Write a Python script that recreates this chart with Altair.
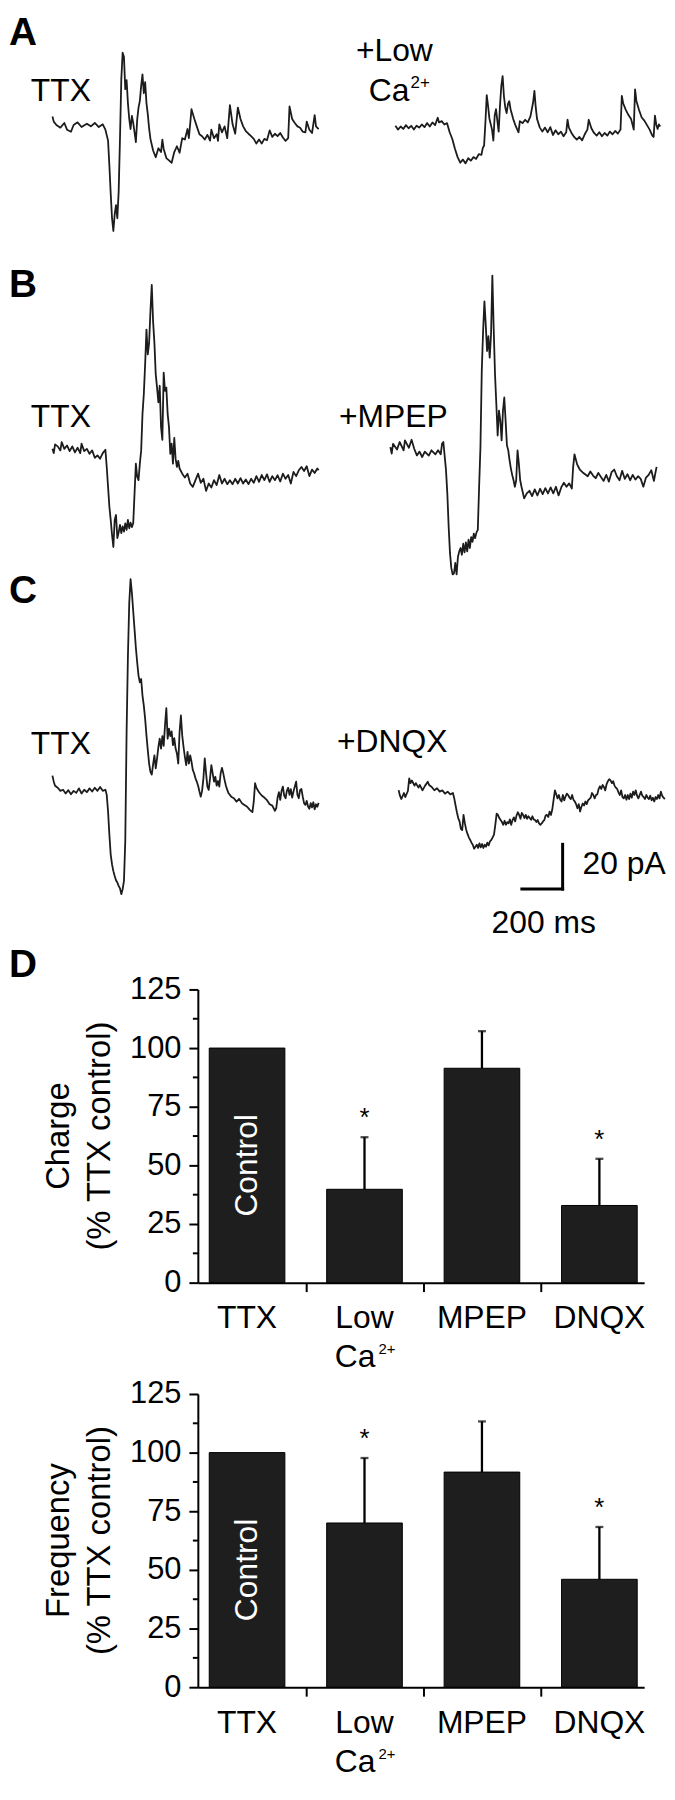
import altair as alt
import pandas as pd

FONT = "Liberation Sans"
INK = "#000000"

# ------------------------------------------------------------------
# Current traces (panels A-C): sample index (DT_MS apart) and current (pA)
# ------------------------------------------------------------------
DT_MS = 6.5
SCALE_BAR_MS = 200
SCALE_BAR_PA = 20

A_TTX_N = [0, 1, 3, 6, 9, 11, 14, 16, 19, 22, 26, 29, 32, 35, 38, 40, 42, 43, 44, 45,
           46, 47, 48, 49, 50, 51, 52, 53, 54, 55, 56, 57, 58, 59, 60, 61, 62, 63, 64, 65,
           66, 67, 68, 69, 70, 71, 72, 73, 74, 76, 78, 80, 82, 83, 84, 86, 88, 90, 92, 94,
           96, 98, 100, 102, 103, 104, 105, 107, 109, 111, 113, 115, 117, 119, 120, 122, 124, 125, 126, 128,
           130, 132, 134, 136, 138, 140, 142, 144, 146, 148, 150, 152, 154, 156, 158, 160, 162, 164, 166, 168,
           170, 172, 174, 176, 178, 179, 181, 183, 185, 187, 189, 191, 192, 194, 196, 198, 199, 201]
A_TTX_PA = [4.1, 1.8, 0.3, -0.9, 1.2, -1.8, -2.7, 0.3, 1.5, -0.6, 0.9, -0.3, 1.2, -0.6, 0.6, -1.8, -6.7, -17.8, -30.3, -41.4,
            -47.1, -39.7, -35.5, -41.4, -29.6, -5.9, 20.7, 32.6, 30.8, 16.3, 20.4, 10.1, 3.0, -1.5, 4.4, 1.2, -3.0, -7.4, 2.7, 8.1,
            11.1, 17.8, 22.9, 14.5, 19.5, 10.1, 5.2, -1.2, -5.9, -11.1, -14.1, -10.1, -11.8, -6.2, -10.4, -14.5, -15.5, -16.6, -11.8, -9.2,
            -12.1, -5.6, -6.2, -1.5, -5.6, 0.7, 7.4, 3.3, -0.3, -3.8, -4.7, -6.2, -4.1, -6.7, -1.8, -5.6, -3.8, -6.8, 0.6, -3.0,
            -0.3, -5.6, 9.2, 0.7, -3.6, 8.1, 3.0, -0.3, -2.4, -3.6, -4.7, -5.9, -8.0, -6.2, -8.0, -5.9, -6.5, -2.1, -5.0, -3.6,
            -4.7, -3.3, -5.3, -6.8, -5.6, 8.6, 3.0, 1.2, -0.3, -0.9, -2.7, -3.0, 1.8, -1.8, -3.3, 4.7, -0.3, -1.5]

A_LOWCA_N = [0, 2, 4, 6, 8, 10, 12, 14, 16, 18, 20, 22, 24, 26, 28, 30, 32, 33, 35, 37,
             39, 41, 43, 45, 47, 49, 51, 53, 55, 57, 59, 61, 63, 65, 66, 67, 68, 69, 70, 71,
             73, 74, 75, 76, 77, 78, 79, 80, 81, 82, 83, 84, 85, 86, 87, 89, 91, 93, 94, 96,
             98, 100, 102, 104, 105, 106, 107, 109, 111, 113, 115, 117, 119, 121, 123, 125, 127, 129, 130, 131,
             133, 135, 137, 139, 141, 143, 145, 146, 148, 150, 152, 154, 156, 158, 160, 162, 164, 166, 168, 170,
             171, 172, 174, 176, 178, 180, 181, 182, 184, 186, 188, 190, 192, 194, 195, 196, 197, 198, 199, 200]
A_LOWCA_PA = [0.7, -1.0, 0.4, -0.7, 1.0, -0.4, 0.7, -1.0, 0.7, -0.1, 1.3, 0.1, 1.9, 0.4, 2.2, 1.0, 4.3, 2.2, 2.8, 1.3,
              1.9, -2.2, -5.2, -9.6, -13.3, -15.8, -14.4, -16.1, -13.8, -14.9, -13.3, -14.1, -12.0, -12.3, -9.3, -8.1, 2.2, 14.4, 9.6, 4.0,
              -1.0, -5.9, 5.2, 8.1, 3.0, -1.9, 9.6, 18.5, 22.9, 13.8, 8.9, 6.4, 10.4, 11.7, 8.1, 3.7, 0.4, -2.2, 2.8, 1.9,
              3.4, 2.2, 4.9, 11.1, 16.3, 8.9, 3.7, 0.0, -1.9, -0.1, -2.2, 0.1, -3.4, -1.3, -3.1, -1.9, -4.0, -2.2, 3.4, -0.1,
              -2.5, -4.3, -5.5, -4.3, -5.8, -3.1, -1.0, 3.4, -0.4, -2.5, -3.7, -2.2, -4.0, -2.5, -3.7, -1.9, -3.1, -1.6, -2.8, -1.0,
              14.1, 10.8, 7.8, 5.5, 3.7, -1.0, 17.0, 11.8, 7.8, 4.4, 3.0, 1.0, -1.0, -3.7, -4.3, 5.2, 1.3, -0.7, 1.3, 0.4]

B_TTX_N = [0, 1, 2, 4, 6, 7, 9, 11, 13, 15, 17, 19, 21, 22, 24, 26, 28, 30, 32, 34, 36, 38, 40,
           41, 42, 43, 44, 45, 46, 47, 48, 49, 50, 51, 52, 53, 54, 55, 56, 57, 58, 59, 60,
           61, 62, 63, 64, 65, 66, 67, 68, 69, 70, 71, 72, 73, 74, 75, 76, 77, 78, 79, 80,
           81, 82, 83, 84, 85, 86, 87, 88, 89, 90, 91, 92, 93, 94, 95, 96,
           98, 100, 102, 104, 106, 108, 110, 112, 114, 116, 118, 120, 122, 124, 126, 128, 130, 132, 134, 136,
           138, 140, 142, 144, 146, 148, 150, 152, 154, 156, 158, 160, 162, 164, 166, 168, 170, 172, 174, 176,
           178, 180, 182, 184, 186, 188, 190, 192, 194, 196, 198, 200, 201]
B_TTX_PA = [0.7, -1.2, 2.7, 1.8, 0.0, 3.7, 0.7, 2.2, -0.3, 1.8, -0.9, 1.2, -1.2, 3.0, -0.3, 0.7, -1.5, 0.0, -3.3, -2.2, -3.7, -1.2, 0.3,
            -7.4, -16.3, -25.2, -31.1, -37.7, -43.2, -31.1, -28.9, -39.2, -36.7,
            -33.3, -37.0, -34.0, -36.3, -32.6, -35.5, -31.1, -34.8, -32.3, -34.3,
            -32.6, -19.2, -5.9, -11.8, -13.3, -5.9, 0.0, 16.3, 25.2, 38.5,
            54.0, 42.9, 48.1, 62.2, 74.0, 57.7, 48.1, 34.0, 28.1, 21.5,
            28.9, 10.4, 4.7, 34.8, 26.6, 28.1, 16.3, 10.4, -1.5, 3.0,
            -5.9, 5.6, -3.7, -7.4, -4.7, -8.1,
            -10.4, -12.1, -10.4, -14.8, -16.3, -13.3, -10.4, -14.5, -12.7, -18.1,
            -14.8, -16.6, -13.3, -15.5, -11.0, -14.8, -12.7, -15.1, -13.3, -15.1,
            -12.7, -14.8, -12.4, -14.8, -13.0, -15.1, -12.7, -14.5, -11.5, -14.1,
            -11.0, -13.3, -10.7, -14.1, -11.5, -13.3, -11.1, -13.9, -10.4, -12.7,
            -11.0, -14.8, -9.6, -11.5, -8.9, -7.4, -9.2, -7.1, -11.5, -8.6,
            -10.1, -8.1, -8.9]

B_MPEP_N = [0, 1, 2, 5, 7, 10, 11, 14, 16, 18, 20, 22, 24, 26, 29, 31, 34, 36, 38, 39, 40,
            42, 43, 44, 45, 46, 47, 48, 49, 50, 51, 52, 53, 54, 55, 56, 57, 58, 59, 60, 61,
            62, 63, 64, 65, 66, 67, 68, 69, 70, 71, 72, 73, 74, 75, 76, 77, 78, 79, 80, 81,
            82, 83, 84, 85, 86, 87, 88, 89, 90, 91, 92, 93, 94, 95, 96, 97, 98, 99,
            101, 103, 105, 107, 109, 111, 113, 115, 117, 119, 121, 123, 125, 127, 129, 131, 133, 135, 137,
            138, 139,
            141, 143, 145, 147, 149, 151, 153, 155, 157, 159, 161, 163, 165, 167, 169,
            171, 173, 175, 177, 179, 181, 183, 185, 187, 189, 191, 193, 195, 197, 199,
            200, 201]
B_MPEP_PA = [0.7, -2.2, 2.2, -0.4, 3.0, -0.7, 3.7, 0.4, 4.0, 0.0, -3.0, -1.3, -3.7, -1.3, -3.1, -0.7, -2.5, -0.7, -2.5, 2.2, 3.0,
             -9.6, -20.0, -34.8, -46.6, -53.3, -56.2, -55.8, -51.1, -56.2, -48.4,
             -45.9, -44.4, -47.4, -42.5, -46.3, -41.9, -45.9, -40.7, -44.4, -39.5,
             -41.6, -38.0, -40.0, -37.4, -36.3, -17.0, 0.7, 34.8, 52.5, 65.9,
             55.5, 43.7, 50.3, 40.7, 51.1, 77.4, 54.0, 33.3, 20.0, 5.9,
             17.0, 12.6, 3.7, 17.0, 22.9, 12.6, 1.5, -0.7, -5.2, -8.9,
             -11.8, -14.1, -17.0, -14.1, -0.7, -6.7, -14.1, -17.0,
             -22.2, -20.0, -18.8, -21.2, -18.2, -20.9, -17.9, -20.3, -17.6, -20.0,
             -17.3, -20.0, -17.0, -20.9, -17.3, -15.2, -17.0, -15.5, -17.8,
             -8.1, -2.5,
             -7.0, -9.3, -10.5, -11.4, -12.3, -10.2, -12.0, -13.2, -10.8, -12.6,
             -14.4, -11.7, -14.7, -10.5, -9.3, -12.3, -14.1, -9.9, -13.5, -11.4,
             -14.1, -11.7, -13.8, -12.3, -13.5, -17.0, -12.9, -11.7, -9.6, -14.4,
             -11.1, -8.1]

C_TTX_N = [0, 1, 2, 4, 6, 8, 10, 12, 14, 16, 18, 20, 22, 24, 26, 28, 30, 32, 34, 36, 38, 40,
           41, 42, 43, 44, 45, 46, 47, 48, 49, 50, 51, 52, 53, 54, 55, 56, 57, 58, 59, 60,
           61, 62, 63, 64, 65, 66, 67, 68, 69, 70, 71, 72, 73, 74, 75, 76, 77, 78, 79, 80,
           81, 82, 83, 84, 85, 86, 87, 88, 89, 90, 91, 92, 93, 94, 95, 96, 97, 98, 99, 100,
           101, 102, 103, 104, 105, 106, 107, 108, 109, 110, 111, 112, 113, 114, 115, 116, 117, 118, 119, 120,
           121, 122, 123, 124, 125, 126, 127, 128, 129, 130, 131, 132, 133,
           135, 137, 139, 141, 143, 145, 147, 149, 151, 152, 153, 154,
           156, 158, 160, 162, 164, 166, 168,
           169, 170, 171, 172, 173, 174, 175, 176, 177, 178, 179, 180, 181, 182, 183, 184, 185, 186, 187, 188,
           189, 190, 191, 192, 193, 194, 195, 196, 197, 198, 199, 200, 201]
C_TTX_PA = [6.4, 3.7, 1.9, 1.0, -0.4, 0.1, -1.6, -0.1, -1.9, -0.4, -1.3, 0.7, -1.6, 0.1, -1.0, 0.7, -0.7, 1.0, -0.4, 1.3, -0.4, 0.1,
            -2.2, -9.6, -20.0, -28.9, -33.3, -36.3, -38.5, -40.4, -41.4, -42.9,
            -44.0, -46.6, -44.4, -40.7, -22.9, 25.9, 59.9, 83.6, 94.3, 88.1,
            79.9, 71.8, 63.6, 57.0, 51.1, 48.1, 49.6, 42.2, 37.7, 31.8,
            24.4, 17.8, 11.8, 8.1, 6.9, 11.4, 15.5, 9.6, 14.1, 19.2,
            22.9, 18.5, 24.1, 19.7, 28.9, 36.6, 22.9, 27.4, 24.1, 26.2,
            20.0, 23.2, 18.5, 16.3, 11.8, 25.9, 33.3, 24.4, 19.2, 14.8,
            11.1, 17.0, 11.8, 15.5, 12.6, 8.9, 7.4, 5.2, 3.7, 1.9,
            -0.7, -3.0, -0.4, 5.2, 14.1, 7.4, 1.5, 0.0, 5.2, 11.1,
            7.4, 3.7, 5.9, 1.9, 4.0, 1.5, 7.4, 9.9, 7.4, 4.4,
            1.9, 0.0, -1.5,
            -3.0, -3.7, -5.2, -4.0, -5.9, -6.7, -7.5, -8.9, -9.9, -5.2, 3.0, 1.0,
            -1.0, -2.5, -3.4, -4.6, -6.4, -7.0, -9.3,
            -8.1, -3.4, -1.0, -4.4, -0.4, 1.5, -2.5, -3.7, -0.4, 1.0,
            -2.2, 0.4, -3.4, -0.7, 1.5, 3.7, -2.2, -3.7, 0.0, 0.4,
            -3.0, -5.9, -6.7, -4.9, -7.4, -8.4, -5.9, -7.8, -5.5, -8.7,
            -6.4, -7.5, -5.8]

C_DNQX_N = [0, 1, 2, 4, 5, 7, 8, 9, 10, 12, 13, 15, 16, 18, 20, 22, 23, 25, 27, 29, 31, 33, 35, 37, 39, 41,
            42, 43, 44, 45, 46, 47, 48, 49, 50, 51, 52, 53, 54, 55, 56, 57, 58, 59, 60, 61,
            62, 63, 64, 65, 66, 67, 68, 69, 70, 71, 72, 73, 74, 75, 76, 77, 78, 79, 80, 81,
            82, 83, 84, 85, 86, 87, 88, 89, 90, 91, 92, 93, 94, 95, 96, 97, 98, 99, 100, 101,
            102, 103, 104, 105, 106, 107, 108, 109, 110, 111, 112, 113, 114, 115, 116, 117, 118, 119, 120, 121,
            122, 123, 124, 125, 126, 127, 128, 129, 130, 131, 132, 133, 134, 135, 136, 137, 138, 139, 140, 141,
            142, 143, 144, 145, 146, 147, 148, 149, 150, 151, 152, 153, 154, 155, 156, 157, 158, 159, 160, 161,
            162, 163, 164, 165, 166, 167, 168, 169, 170, 171, 172, 173, 174, 175, 176, 177, 178, 179, 180, 181,
            182, 183, 184, 185, 186, 187, 188, 189, 190, 191, 192, 193, 194, 195, 196, 197, 198, 199, 200, 201]
C_DNQX_PA = [1.0, -1.5, -3.0, -0.3, -2.1, 0.6, 6.2, 4.1, 5.3, 3.0, 4.1, 2.1, 3.3, 0.9, 3.0, 4.7, 3.3, 2.4, 0.9, 1.8,
             0.3, 0.9, -0.6, 0.3, -0.9, -0.3,
             -2.7, -5.9, -8.9, -11.5, -13.0, -16.3, -16.9, -10.1, -13.8, -16.7,
             -18.6, -20.1, -21.3, -22.5, -23.4, -25.2, -24.3, -23.4, -24.9, -22.8,
             -24.6, -23.1, -24.9, -23.4, -24.3, -22.5, -23.7, -21.9, -21.3, -20.1,
             -18.9, -14.5, -9.5, -10.1, -11.5, -12.4, -13.3, -14.5, -12.7, -14.5,
             -13.3, -13.9, -12.1, -14.5, -12.4, -11.2, -13.0, -10.4, -8.9, -10.1,
             -11.8, -9.2, -10.1, -11.5, -10.1, -11.8, -10.7, -11.5, -12.3, -10.7,
             -12.1, -12.4, -13.3, -12.4, -13.9, -14.5, -13.9, -13.0, -12.4, -10.4,
             -10.1, -11.0, -8.6, -10.1, -7.7, -3.4, 0.9, -0.9, -2.7, -1.2,
             -3.3, -4.1, -1.2, -3.6, -1.9, -0.6, -1.2, -2.4, -3.0, -1.2,
             -3.3, -4.1, -5.3, -7.1, -5.3, -8.6, -6.5, -5.0, -5.9, -4.1,
             -5.3, -3.6, -3.0, -2.4, -0.3, -1.2, -2.7, -1.2, -0.9, 1.5,
             2.7, 1.5, 3.3, 2.4, 0.9, 3.6, 5.0, 5.9, 5.3, 4.1,
             5.0, 3.0, 2.1, 1.5, 0.0, -1.2, 0.9, -2.1, -2.7, -1.2,
             -3.3, -1.2, -3.0, -0.6, -2.4, 0.3, -1.2, 0.9, -1.5, -2.7,
             -1.2, 0.3, -1.5, -2.1, -3.0, -1.2, -2.4, -3.0, -1.5, -3.6,
             -2.4, -4.1, -2.1, -3.0, -1.2, -2.7, 0.3, -1.5, -2.4, -3.0]

TRACES = {
    "A_TTX": (A_TTX_N, A_TTX_PA),
    "A_LOWCA": (A_LOWCA_N, A_LOWCA_PA),
    "B_TTX": (B_TTX_N, B_TTX_PA),
    "B_MPEP": (B_MPEP_N, B_MPEP_PA),
    "C_TTX": (C_TTX_N, C_TTX_PA),
    "C_DNQX": (C_DNQX_N, C_DNQX_PA),
}

# ------------------------------------------------------------------
# Summary data (panel D)
# ------------------------------------------------------------------
LABEL_LINE1 = ["TTX", "Low", "MPEP", "DNQX"]
LABEL_LINE2 = ["", "Ca", "", ""]
LABEL_SUP = ["", "2+", "", ""]
CHARGE_MEAN = [100.0, 39.8, 91.4, 32.9]
CHARGE_SEM = [0.0, 22.2, 15.8, 19.9]
FREQ_MEAN = [100.0, 70.0, 91.7, 46.0]
FREQ_SEM = [0.0, 27.7, 21.6, 22.3]
SIGNIFICANT = [False, True, False, True]
Y_TICKS = [0, 25, 50, 75, 100, 125]
Y_MINOR = [12.5, 37.5, 62.5, 87.5, 112.5]

# ------------------------------------------------------------------
# Layout (pixels). All views share a left edge at the bar plot's y axis;
# items further left are drawn at negative x.
# ------------------------------------------------------------------
MS_PER_PX = SCALE_BAR_MS / 41.0
PA_PER_PX = SCALE_BAR_PA / 45.0
LEFT = 190                      # distance from figure left edge to the y axis
W_FULL, H_TR = 660, 869
TRACE_POS = {
    "A_TTX": (43.7, 112.0), "A_LOWCA": (388.7, 113.7),
    "B_TTX": (43.7, 438.7), "B_MPEP": (383.7, 437.0),
    "C_TTX": (43.7, 780.3), "C_DNQX": (392.0, 782.7),
}
SCALE_BAR_CORNER = (557, 880)
W_BAR, H_BAR = 449, 295
BAR_HALF = 0.322
X_DOMAIN = [0.581, 4.381]
GAP = 112

ONE = pd.DataFrame({"k": [0]})


def note(text, x, y, size=32, weight="normal", align="left", baseline="alphabetic",
         angle=0, color=INK):
    return alt.Chart(ONE).mark_text(
        text=text, font=FONT, fontSize=size, fontWeight=weight, align=align,
        baseline=baseline, angle=angle, color=color
    ).encode(x=alt.value(x), y=alt.value(y))


# ---------------- trace view ----------------
rows = []
for name, (ns, vals) in TRACES.items():
    assert len(ns) == len(vals), (name, len(ns), len(vals))
    x0, yb = TRACE_POS[name]
    for n, v in zip(ns, vals):
        rows.append({"trace": name,
                     "t": n * DT_MS + x0 * MS_PER_PX,
                     "i": v + (H_TR - yb) * PA_PER_PX})
tdf = pd.DataFrame(rows)

txs = alt.Scale(domain=[LEFT * MS_PER_PX, W_FULL * MS_PER_PX], nice=False, zero=False)
tys = alt.Scale(domain=[0, H_TR * PA_PER_PX], nice=False, zero=False)

trace_lines = alt.Chart(tdf).mark_line(color="#1c1c1c", strokeWidth=1.8, strokeJoin="round").encode(
    x=alt.X("t:Q", scale=txs, axis=None),
    y=alt.Y("i:Q", scale=tys, axis=None),
    detail="trace:N",
)

ct = SCALE_BAR_CORNER[0] * MS_PER_PX
ci = (H_TR - SCALE_BAR_CORNER[1]) * PA_PER_PX
sbdf = pd.DataFrame({"t": [ct - SCALE_BAR_MS, ct], "t2": [ct, ct],
                     "i": [ci, ci], "i2": [ci, ci + SCALE_BAR_PA]})
scale_bar = alt.Chart(sbdf).mark_rule(color=INK, strokeWidth=3, strokeCap="square").encode(
    x=alt.X("t:Q", scale=txs, axis=None), x2="t2:Q",
    y=alt.Y("i:Q", scale=tys, axis=None), y2="i2:Q",
)


def tnote(text, x, y, **kw):
    return note(text, x - LEFT, y, **kw)


trace_view = alt.layer(
    trace_lines, scale_bar,
    tnote("A", 0, 31, size=39, weight="bold"),
    tnote("B", 0, 284, size=39, weight="bold"),
    tnote("C", 0, 592, size=39, weight="bold"),
    tnote("TTX", 22, 87), tnote("+Low", 349, 47), tnote("Ca", 362, 87),
    tnote("2+", 404, 74, size=17),
    tnote("TTX", 22, 415), tnote("+MPEP", 332, 415),
    tnote("TTX", 22, 744), tnote("+DNQX", 330, 742),
    tnote("20 pA", 577, 865), tnote("200 ms", 538, 924, align="center"),
).properties(width=W_FULL - LEFT, height=H_TR)


# ---------------- bar panels ----------------
def bar_panel(means, sems, title1, title2, letter=None):
    df = pd.DataFrame({"pos": [1, 2, 3, 4], "lab": LABEL_LINE1, "lab2": LABEL_LINE2,
                       "sup": LABEL_SUP, "mean": means, "sem": sems, "sig": SIGNIFICANT})
    df["lo"] = df["pos"] - BAR_HALF
    df["hi"] = df["pos"] + BAR_HALF
    df["top"] = df["mean"] + df["sem"]
    df["mid"] = df["mean"] / 2
    err = df[df["sem"] > 0]
    sig = df[df["sig"]]
    ctrl = df[df["lab"] == "TTX"]
    two = df[df["lab2"] != ""]

    xs = alt.Scale(domain=X_DOMAIN, nice=False, zero=False)
    ys = alt.Scale(domain=[0, 125], nice=False, zero=False)
    xaxis = alt.Axis(values=[1.5, 2.5, 3.5], labels=False, title=None, grid=False,
                     tickSize=9, tickWidth=2, tickColor=INK, domainColor=INK, domainWidth=2)
    yaxis = alt.Axis(values=Y_TICKS, title=None, grid=False, tickSize=9, tickWidth=2,
                     tickColor=INK, domainColor=INK, domainWidth=2, labelFont=FONT,
                     labelFontSize=31, labelColor=INK, labelPadding=8,
                     labelFlush=False, labelOverlap=False)

    X = lambda f: alt.X(f, scale=xs, axis=xaxis)
    Y = lambda f: alt.Y(f, scale=ys, axis=yaxis)

    bars = alt.Chart(df).mark_bar(color="#1e1e1e", stroke=INK, strokeWidth=1).encode(
        x=X("lo:Q"), x2="hi:Q", y=Y("mean:Q"), y2=alt.datum(0))
    minor = alt.Chart(pd.DataFrame({"v": Y_MINOR})).mark_rule(color=INK, strokeWidth=2).encode(
        y=Y("v:Q"), x=alt.value(-5), x2=alt.value(0))
    ebar = alt.Chart(err).mark_rule(color=INK, strokeWidth=2.3).encode(
        x=X("pos:Q"), y=Y("mean:Q"), y2="top:Q")
    ecap = alt.Chart(err).mark_tick(color=INK, orient="horizontal", size=8, thickness=2.3).encode(
        x=X("pos:Q"), y=Y("top:Q"))
    star = alt.Chart(sig).mark_text(text="*", font=FONT, fontSize=26, color=INK, dy=-11,
                                    baseline="alphabetic").encode(x=X("pos:Q"), y=Y("top:Q"))
    control = alt.Chart(ctrl).mark_text(text="Control", font=FONT, fontSize=32, color="white",
                                        angle=270, align="center", baseline="middle").encode(
        x=X("pos:Q"), y=Y("mid:Q"))
    lab1 = alt.Chart(df).mark_text(font=FONT, fontSize=32, color=INK, align="center",
                                   baseline="alphabetic").encode(
        x=X("pos:Q"), y=alt.value(H_BAR + 46), text="lab:N")
    lab2 = alt.Chart(two).mark_text(font=FONT, fontSize=32, color=INK, align="right", dx=11,
                                    baseline="alphabetic").encode(
        x=X("pos:Q"), y=alt.value(H_BAR + 85), text="lab2:N")
    lab3 = alt.Chart(two).mark_text(font=FONT, fontSize=15, color=INK, align="left", dx=14,
                                    baseline="alphabetic").encode(
        x=X("pos:Q"), y=alt.value(H_BAR + 72), text="sup:N")
    layers = [bars, minor, ebar, ecap, star, control, lab1, lab2, lab3,
              note(title1, -130, H_BAR / 2, size=33, align="center", angle=270),
              note(title2, -88, H_BAR / 2, size=33, align="center", angle=270)]
    if letter:
        layers.append(note(letter, -LEFT, -13, size=39, weight="bold"))
    return alt.layer(*layers).properties(width=W_BAR, height=H_BAR)


bar1 = bar_panel(CHARGE_MEAN, CHARGE_SEM, "Charge", "(% TTX control)", letter="D")
bar2 = bar_panel(FREQ_MEAN, FREQ_SEM, "Frequency", "(% TTX control)")

chart = alt.vconcat(trace_view, bar1, bar2, spacing=GAP, bounds="flush", padding=0
                    ).configure_view(stroke="transparent")

chart.save("out.html", embed_options={"renderer": "svg", "actions": False})
